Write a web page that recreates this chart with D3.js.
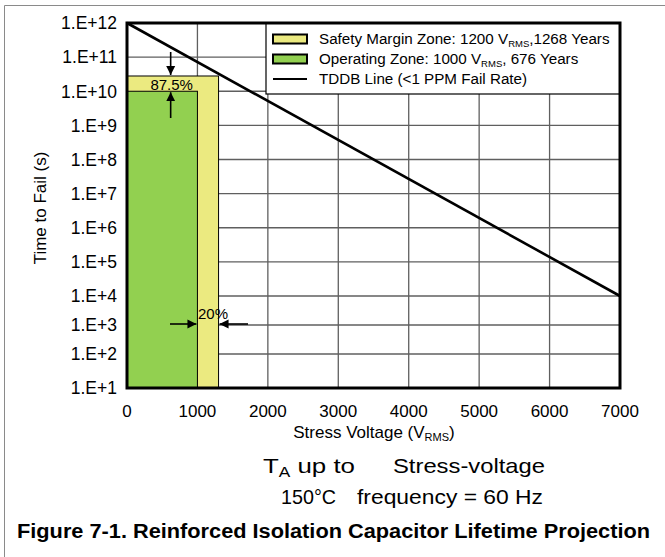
<!DOCTYPE html>
<html><head><meta charset="utf-8">
<script src="https://cdn.jsdelivr.net/npm/d3@7"></script>
<style>
body{margin:0;background:#fff}
svg{display:block}
text{font-family:"Liberation Sans",Arial,Helvetica,sans-serif;fill:#000}
</style>
</head><body>
<svg id="c" width="665" height="557"></svg>
<script>
// ---------- data ----------
const xTicks = [0, 1000, 2000, 3000, 4000, 5000, 6000, 7000];
const yTickValues = [1e1, 1e2, 1e3, 1e4, 1e5, 1e6, 1e7, 1e8, 1e9, 1e10, 1e11, 1e12];
const yTickLabels = ["1.E+1","1.E+2","1.E+3","1.E+4","1.E+5","1.E+6","1.E+7","1.E+8","1.E+9","1.E+10","1.E+11","1.E+12"];
const zoneNames = ["Safety Margin Zone", "Operating Zone"];
const zoneVoltage = [1300, 1000];
const zoneTime = [2.8e10, 1e10];
const zoneColors = ["#ebea80", "#92d050"];
const legendMain = ["Safety Margin Zone: 1200 V", "Operating Zone: 1000 V"];
const legendSub = ["RMS", "RMS"];
const legendTail = [",1268 Years", ", 676 Years"];
const lineLegend = "TDDB Line (<1 PPM Fail Rate)";
const tddbVoltage = [0, 7000];
const tddbTime = [1e12, 1e4];
const marginLabels = ["87.5%", "20%"];
const annotVoltage = [620];   // x position of the 87.5% arrows
const annotTime = [1e3];      // height of the 20% arrows

// ---------- layout ----------
const svg = d3.select("#c");
const L = 127, R = 620, T = 23, B = 388;
const x = d3.scaleLinear().domain([0, 7000]).range([L, R]);
const y = d3.scaleLog().domain([1e1, 1e2, 1e3, 1e4, 1e12]).range([B, 354, 325, 296, T]);

// outer frame
svg.append("path").attr("d", "M4.5,557 V5.5 H665").attr("fill", "none").attr("stroke", "#8a8a8a").attr("stroke-width", 1);

// gridlines
const grid = svg.append("g").attr("stroke", "#5f5f5f").attr("stroke-width", 1.3);
grid.selectAll("line.h").data(yTickValues).join("line")
  .attr("x1", L).attr("x2", R).attr("y1", d => y(d)).attr("y2", d => y(d));
grid.selectAll("line.v").data(xTicks).join("line")
  .attr("y1", T).attr("y2", B).attr("x1", d => x(d)).attr("x2", d => x(d));

// zones
svg.append("g").selectAll("rect").data(zoneNames).join("rect")
  .attr("x", x(0))
  .attr("y", (d, i) => y(zoneTime[i]))
  .attr("width", (d, i) => x(zoneVoltage[i]) - x(0))
  .attr("height", (d, i) => y(1e1) - y(zoneTime[i]))
  .attr("fill", (d, i) => zoneColors[i])
  .attr("stroke", "#000").attr("stroke-width", 1);

// TDDB line
svg.append("path")
  .datum(tddbVoltage.map((v, i) => [v, tddbTime[i]]))
  .attr("d", d3.line().x(d => x(d[0])).y(d => y(d[1])))
  .attr("fill", "none").attr("stroke", "#000").attr("stroke-width", 2.6);

// legend
const lg = svg.append("g");
lg.append("rect").attr("x", 266).attr("y", T).attr("width", R - 266).attr("height", 71)
  .attr("fill", "#fff").attr("stroke", "#000").attr("stroke-width", 1.2);
const legendY = [39, 59, 79];
zoneNames.forEach((n, i) => {
  lg.append("rect").attr("x", 273).attr("y", legendY[i] - 4.5).attr("width", 34).attr("height", 9)
    .attr("fill", zoneColors[i]).attr("stroke", "#000").attr("stroke-width", 2);
  const t = lg.append("text").attr("x", 319).attr("y", legendY[i] + 5).attr("font-size", 15.2);
  t.append("tspan").text(legendMain[i]);
  t.append("tspan").attr("font-size", 9.5).attr("dy", 3).text(legendSub[i]);
  t.append("tspan").attr("dy", -3).text(legendTail[i]);
});
lg.append("line").attr("x1", 273).attr("x2", 307).attr("y1", legendY[2]).attr("y2", legendY[2])
  .attr("stroke", "#000").attr("stroke-width", 2.2);
lg.append("text").attr("x", 319).attr("y", legendY[2] + 5).attr("font-size", 15.2).text(lineLegend);

// plot border
svg.append("rect").attr("x", L).attr("y", T).attr("width", R - L).attr("height", B - T)
  .attr("fill", "none").attr("stroke", "#000").attr("stroke-width", 3);

// axes tick labels
svg.append("g").selectAll("text").data(xTicks).join("text")
  .attr("x", d => x(d)).attr("y", 417).attr("text-anchor", "middle").attr("font-size", 17)
  .text(d => d);
svg.append("g").selectAll("text").data(yTickValues).join("text")
  .attr("x", 117).attr("y", d => y(d)).attr("dy", "0.36em").attr("text-anchor", "end").attr("font-size", 17.5)
  .text((d, i) => yTickLabels[i]);

// axis titles
const xt = svg.append("text").attr("x", 374).attr("y", 438).attr("text-anchor", "middle").attr("font-size", 17);
xt.append("tspan").text("Stress Voltage (V");
xt.append("tspan").attr("font-size", 11).attr("dy", 3).text("RMS");
xt.append("tspan").attr("dy", -3).text(")");
svg.append("text").attr("transform", "translate(46,208) rotate(-90)").attr("text-anchor", "middle")
  .attr("font-size", 17).text("Time to Fail (s)");

// annotations
const defs = svg.append("defs");
defs.append("marker").attr("id", "ah").attr("viewBox", "0 0 10 10").attr("refX", 10).attr("refY", 5)
  .attr("markerUnits", "userSpaceOnUse").attr("markerWidth", 9).attr("markerHeight", 10).attr("orient", "auto")
  .append("path").attr("d", "M0,0 L10,5 L0,10 Z").attr("fill", "#000");
const ax = x(annotVoltage[0]);
const ann = svg.append("g").attr("stroke", "#000").attr("stroke-width", 1.6);
ann.append("line").attr("x1", ax).attr("x2", ax).attr("y1", 52).attr("y2", y(zoneTime[0]) - 1).attr("marker-end", "url(#ah)");
ann.append("line").attr("x1", ax).attr("x2", ax).attr("y1", 118).attr("y2", y(zoneTime[1]) + 1).attr("marker-end", "url(#ah)");
const ay = y(annotTime[0]) - 1;
ann.append("line").attr("x1", 170).attr("x2", x(zoneVoltage[1]) - 1).attr("y1", ay).attr("y2", ay).attr("marker-end", "url(#ah)");
ann.append("line").attr("x1", 248).attr("x2", x(zoneVoltage[0]) + 1).attr("y1", ay).attr("y2", ay).attr("marker-end", "url(#ah)");
svg.append("text").attr("x", ax + 1).attr("y", 89.5).attr("text-anchor", "middle").attr("font-size", 15).text(marginLabels[0]);
svg.append("text").attr("x", 213).attr("y", 319).attr("text-anchor", "middle").attr("font-size", 15).text(marginLabels[1]);

// conditions text
const c1 = svg.append("text").attr("x", 263).attr("y", 473).attr("font-size", 21)
  .attr("textLength", 92).attr("lengthAdjust", "spacingAndGlyphs");
c1.append("tspan").text("T");
c1.append("tspan").attr("font-size", 14).attr("dy", 4).text("A");
c1.append("tspan").attr("dy", -4).text(" up to");
svg.append("text").attr("x", 281).attr("y", 504).attr("font-size", 21)
  .attr("textLength", 55).attr("lengthAdjust", "spacingAndGlyphs").text("150°C");
svg.append("text").attr("x", 393).attr("y", 473).attr("font-size", 21)
  .attr("textLength", 152).attr("lengthAdjust", "spacingAndGlyphs").text("Stress-voltage");
svg.append("text").attr("x", 357).attr("y", 504).attr("font-size", 21)
  .attr("textLength", 186).attr("lengthAdjust", "spacingAndGlyphs").text("frequency = 60 Hz");

// figure caption
svg.append("text").attr("x", 17).attr("y", 538).attr("font-size", 19.5)
  .attr("font-weight", "bold").attr("textLength", 633).attr("lengthAdjust", "spacingAndGlyphs")
  .text("Figure 7-1. Reinforced Isolation Capacitor Lifetime Projection");
</script>
</body></html>
